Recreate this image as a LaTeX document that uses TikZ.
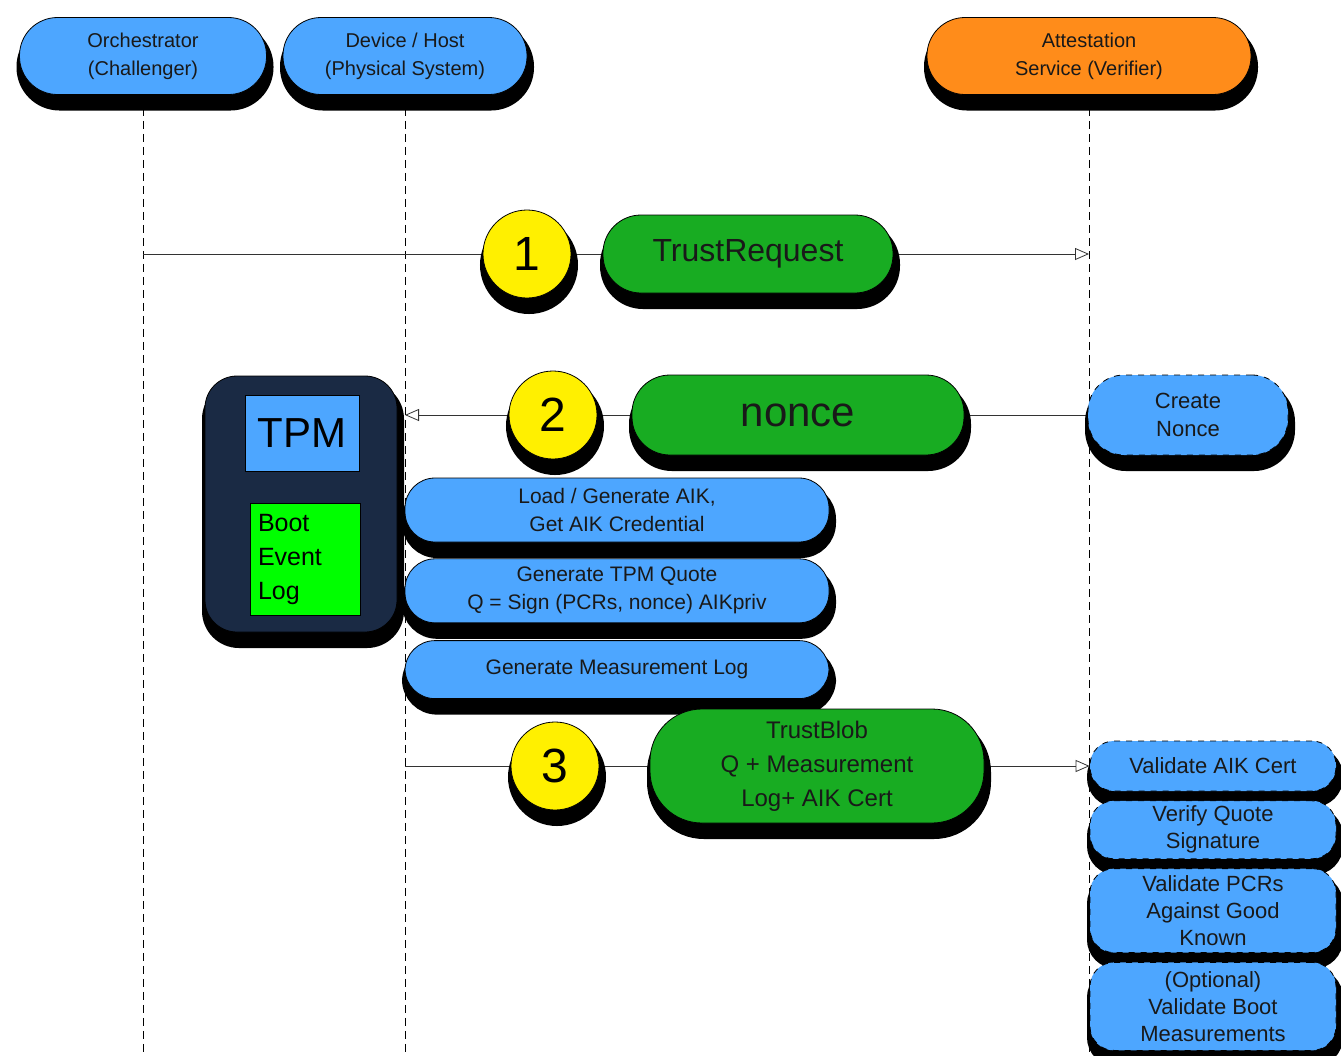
\documentclass[tikz,border=0pt]{standalone}
\usepackage{fontspec}
\setmainfont{Liberation Sans}
\usepackage{xcolor}
\usepackage{tikz}
\usetikzlibrary{positioning, arrows.meta, shadows, backgrounds}

\definecolor{pillblue}{RGB}{77,166,255}
\definecolor{pillorange}{RGB}{255,140,26}
\definecolor{msggreen}{RGB}{24,172,34}
\definecolor{stepyellow}{RGB}{255,240,0}
\definecolor{tpmnavy}{RGB}{26,42,68}
\definecolor{loggreen}{RGB}{0,255,0}

\tikzset{
  blackshadow/.style={drop shadow={shadow xshift=1pt, shadow yshift=-5.5pt, fill=black, draw=black, solid, line width=5pt, opacity=1}},
  pill/.style={rectangle, draw=black, thin, rounded corners=#1, blackshadow, align=center, text=black!90, inner sep=1pt},
  actor/.style={pill=19pt, fill=pillblue, minimum height=38.5pt, font=\fontsize{10}{14}\selectfont},
  stepnum/.style={circle, draw=black, thin, fill=stepyellow, minimum size=44pt, blackshadow, font=\fontsize{24}{28}\selectfont},
  msgbox/.style={pill=19pt, fill=msggreen, minimum height=39pt},
  hostbox/.style={pill=15pt, fill=pillblue, minimum width=212pt, font=\fontsize{10.5}{14}\selectfont},
  checkbox/.style={pill=12pt, fill=pillblue, dashed, minimum width=123pt, font=\fontsize{11}{13.5}\selectfont},
  lifeline/.style={draw=black, thin, dash pattern=on 4pt off 2.5pt},
  msg/.style={draw=black!80, thin, -{Triangle[open, length=7pt, width=6pt]}}
}

\begin{document}
\begin{tikzpicture}[x=0.5pt, y=-0.5pt]
\path[use as bounding box] (0,0) rectangle (1341,1056);
\coordinate (bottom) at (0,1056);

\node[actor, minimum width=123.5pt] (orch) at (143,56) {Orchestrator\\(Challenger)};
\node[actor, minimum width=122pt] (host) at (405,56) {Device / Host\\(Physical System)};
\node[actor, fill=pillorange, minimum width=162pt] (attest) at (1089,56) {Attestation\\Service (Verifier)};

\node[stepnum] (c1) at (527,254) {1};
\node[msgbox, minimum width=145pt, font=\fontsize{16}{19}\selectfont] (trustreq) at (748,254) {TrustRequest};

\node[stepnum] (c2) at (553,415) {2};
\node[msgbox, minimum width=166pt, minimum height=40pt, font=\fontsize{21}{24}\selectfont] (nonce) at (798,415) {nonce};
\node[pill=18pt, fill=pillblue, dashed, minimum width=100pt, minimum height=40pt, font=\fontsize{11}{14}\selectfont] (createnonce) at (1188,415) {Create\\Nonce};

\node[rectangle, draw=black, fill=tpmnavy, rounded corners=16pt, minimum width=96pt, minimum height=128pt, blackshadow] (tpmcase) at (301,504) {};
\node[rectangle, draw=black, fill=pillblue, minimum width=57pt, minimum height=38pt, font=\fontsize{21}{24}\selectfont] (tpmchip) at (302,433) {TPM};
\node[rectangle, draw=black, fill=loggreen, minimum width=55pt, minimum height=56pt, text width=47pt, align=left, inner sep=3pt, font=\fontsize{12.5}{17}\selectfont] (bootlog) at (305,559) {Boot\\Event\\Log};

\node[hostbox, minimum height=32pt] (aik) at (617,510) {Load / Generate AIK,\\Get AIK Credential};
\node[hostbox, minimum height=32pt, below=8pt of aik] (quote) {Generate TPM Quote\\Q = Sign (PCRs, nonce) AIKpriv};
\node[hostbox, minimum height=29pt, below=8.5pt of quote] (mlog) {Generate Measurement Log};

\node[stepnum] (c3) at (555,766) {3};
\node[msgbox, rounded corners=26pt, minimum width=167pt, minimum height=57pt, font=\fontsize{12}{17}\selectfont] (blob) at (817,766) {TrustBlob\\Q + Measurement\\Log+ AIK Cert};

\node[checkbox, minimum height=25pt] (vaik) at (1213,766) {Validate AIK Cert};
\node[checkbox, minimum height=29pt, below=4.5pt of vaik] (vquote) {Verify Quote\\Signature};
\node[checkbox, minimum height=42pt, below=4.5pt of vquote] (vpcr) {Validate PCRs\\Against Good\\Known};
\node[checkbox, minimum height=44pt, below=4.5pt of vpcr] (vboot) {(Optional)\\Validate Boot\\Measurements};

\begin{scope}[on background layer]
  \draw[lifeline] (orch.south) -- (orch.south |- bottom);
  \draw[lifeline] (host.south) -- (host.south |- bottom);
  \draw[lifeline] (attest.south) -- (attest.south |- bottom);
  \draw[msg] (orch.south |- c1) -- (attest.south |- c1);
  \draw[msg] (createnonce.west) -- (host.south |- createnonce.west);
  \draw[msg] (host.south |- vaik.west) -- (vaik.west);
\end{scope}
\end{tikzpicture}
\end{document}
